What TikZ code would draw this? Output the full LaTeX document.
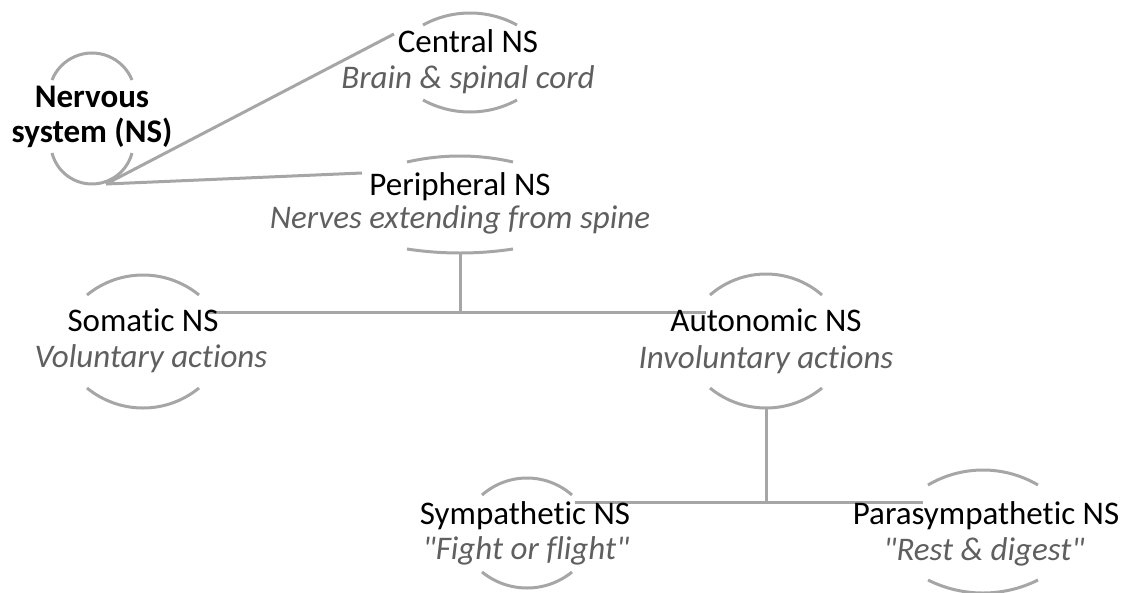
\documentclass[tikz,border=0pt]{standalone}
\usepackage{fontspec}
\setmainfont{Carlito}[Ligatures={TeXOff,CommonOff}]
\definecolor{linegray}{RGB}{166,166,166}
\definecolor{subgray}{RGB}{95,95,95}
\begin{document}
\begin{tikzpicture}[x=1pt,y=-1pt,
  title/.style={inner sep=0pt, anchor=base, font=\fontsize{33}{36}\selectfont},
  boldtitle/.style={inner sep=0pt, anchor=base, font=\fontsize{33}{36}\selectfont\bfseries},
  subtitle/.style={inner sep=0pt, anchor=base, text=subgray, font=\fontsize{33}{36}\selectfont\itshape},
  link/.style={draw=linegray, line width=3pt},
  bracket/.style={draw=linegray, line width=3pt}]
\useasboundingbox (0,0) rectangle (1126,592);

% curved brackets above and below each label: centre x, top chord y, top rise, bottom chord y, bottom sag, half width
\foreach \cx/\yt/\ht/\yb/\hb/\w in {92/80/27/153/31/40, 470/25/12/100/12/47, 460/162/6/249/4/53,
  143/295/20/388/20/56, 766/295/21/388/20/56, 527/495/17/572/16/45, 983/485/15/580/13/55}
{
  \pgfmathsetmacro\rt{(\w*\w+\ht*\ht)/(2*\ht)}
  \pgfmathsetmacro\at{asin(\w/\rt)}
  \pgfmathsetmacro\rb{(\w*\w+\hb*\hb)/(2*\hb)}
  \pgfmathsetmacro\ab{asin(\w/\rb)}
  \draw[bracket] (\cx-\w,\yt) arc[start angle=90+\at, end angle=90-\at, radius=\rt pt];
  \draw[bracket] (\cx-\w,\yb) arc[start angle=270-\ab, end angle=270+\ab, radius=\rb pt];
}

% connector end points
\coordinate (nerv-foot) at (106,184);
\coordinate (cns-tip) at (394,34);
\coordinate (pns-tip) at (362,173);
\coordinate (pns-foot) at (460,253);
\coordinate (pns-join) at (460,312);
\coordinate (som-tip) at (208,312);
\coordinate (auto-tip) at (706,312);
\coordinate (auto-foot) at (766,408);
\coordinate (auto-join) at (766,502);
\coordinate (sym-tip) at (575,502);
\coordinate (para-tip) at (923,502);

% connectors
\draw[link] (nerv-foot) -- (cns-tip);
\draw[link] (nerv-foot) -- (pns-tip);
\draw[link] (pns-foot) -- (pns-join);
\draw[link] (som-tip) -- (auto-tip);
\draw[link] (auto-foot) -- (auto-join);
\draw[link] (sym-tip) -- (para-tip);

% labels
\node[boldtitle] (nerv) at (92,107) {Nervous};
\node[boldtitle] (nerv2) at (92,142) {system (NS)};

\node[title] (cns) at (468,52) {Central NS};
\node[subtitle] (cns-sub) at (468,88) {Brain \& spinal cord};

\node[title] (pns) at (460,195) {Peripheral NS};
\node[subtitle] (pns-sub) at (460,228) {Nerves extending from spine};

\node[title] (som) at (143,331) {Somatic NS};
\node[subtitle] (som-sub) at (151,367) {Voluntary actions};

\node[title] (auto) at (766,331) {Autonomic NS};
\node[subtitle] (auto-sub) at (766,368) {Involuntary actions};

\node[title] (sym) at (525,524) {Sympathetic NS};
\node[subtitle] (sym-sub) at (526,559) {"Fight or flight"};

\node[title] (para) at (986,524) {Parasympathetic NS};
\node[subtitle] (para-sub) at (984,560) {"Rest \& digest"};
\end{tikzpicture}
\end{document}
